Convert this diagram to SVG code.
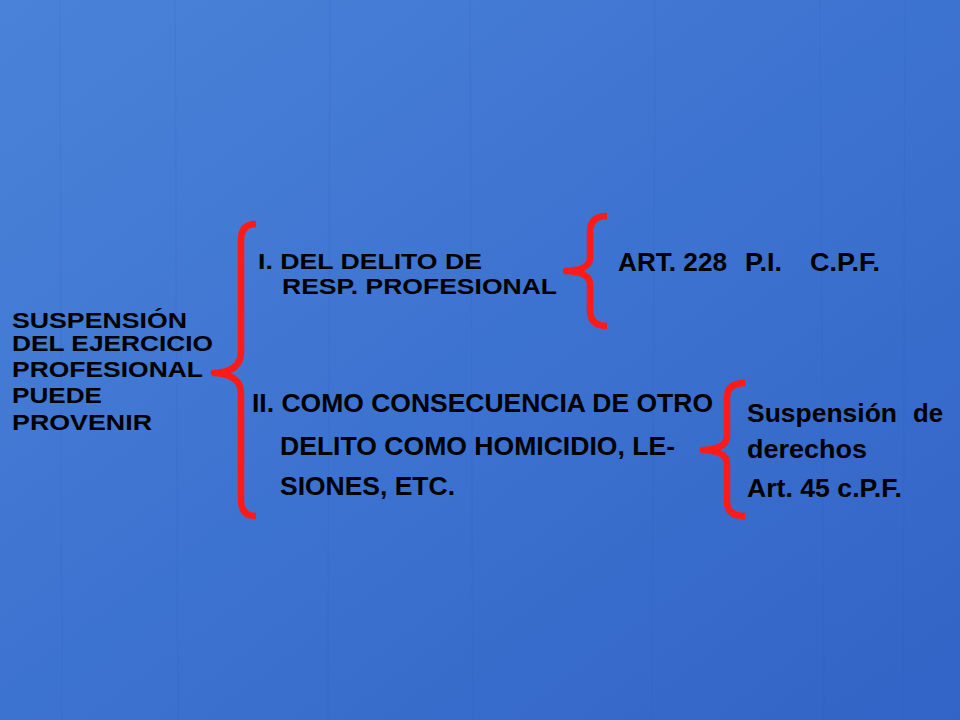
<svg xmlns="http://www.w3.org/2000/svg" width="960" height="720" viewBox="0 0 960 720">
<defs>
<linearGradient id="bg" x1="0" y1="0" x2="1" y2="1">
<stop offset="0" stop-color="#4a82d8"/>
<stop offset="0.5" stop-color="#3d73d0"/>
<stop offset="1" stop-color="#3263c6"/>
</linearGradient>
<style>
.t{font-family:"Liberation Sans",Arial,sans-serif;font-weight:bold;fill:#000;}
.l{font-size:22px;}
.m{font-size:25px;}
.m2{font-size:21.5px;}
.r{font-size:26px;}
.br{fill:none;stroke:#ff1a1a;stroke-width:6.5;stroke-linecap:butt;stroke-linejoin:round;}
.st{stroke:#2a58b8;stroke-opacity:0.1;stroke-width:1.5;}
</style>
</defs>
<rect width="960" height="720" fill="url(#bg)"/>
<g id="texture">
<line class="st" x1="60" y1="0" x2="62" y2="720"/>
<line class="st" x1="175" y1="0" x2="178" y2="720"/>
<line class="st" x1="330" y1="0" x2="328" y2="720"/>
<line class="st" x1="470" y1="0" x2="473" y2="720"/>
<line class="st" x1="655" y1="0" x2="652" y2="720"/>
<line class="st" x1="820" y1="0" x2="824" y2="720"/>
<line class="st" x1="905" y1="0" x2="903" y2="720"/>
</g>
<g id="connectors">
<path class="br" d="M256,224 Q241,224 241,240 L241,352 Q241,372 214,373 Q241,374 241,394 L241,500 Q241,516 256,516"/>
<path class="br" d="M607,216 Q590,216 590,232 L590,258 Q590,270 566,271 Q590,272 590,284 L590,310 Q590,326 607,326"/>
<path class="br" d="M745,383 Q727,383 727,398 L727,436 Q727,449 703,450 Q727,451 727,464 L727,502 Q727,516 745,516"/>
</g>
<g id="root">
<text class="t l" x="12" y="328" textLength="175" lengthAdjust="spacingAndGlyphs">SUSPENSIÓN</text>
<text class="t l" x="12" y="351" textLength="201" lengthAdjust="spacingAndGlyphs">DEL EJERCICIO</text>
<text class="t l" x="12" y="377" textLength="191" lengthAdjust="spacingAndGlyphs">PROFESIONAL</text>
<text class="t l" x="12" y="403" textLength="90" lengthAdjust="spacingAndGlyphs">PUEDE</text>
<text class="t l" x="12" y="430" textLength="140" lengthAdjust="spacingAndGlyphs">PROVENIR</text>
</g>
<g id="n1">
<text class="t m2" x="258" y="269" textLength="224" lengthAdjust="spacingAndGlyphs">I. DEL DELITO DE</text>
<text class="t m2" x="282" y="294" textLength="275" lengthAdjust="spacingAndGlyphs">RESP. PROFESIONAL</text>
</g>
<g id="n1a">
<text class="t m" x="618" y="271" textLength="109" lengthAdjust="spacingAndGlyphs">ART. 228</text>
<text class="t m" x="745" y="271" textLength="37" lengthAdjust="spacingAndGlyphs">P.I.</text>
<text class="t m" x="810" y="271" textLength="70" lengthAdjust="spacingAndGlyphs">C.P.F.</text>
</g>
<g id="n2">
<text class="t m" x="252" y="412" textLength="461" lengthAdjust="spacingAndGlyphs">II. COMO CONSECUENCIA DE OTRO</text>
<text class="t m" x="280" y="455" textLength="395" lengthAdjust="spacingAndGlyphs">DELITO COMO HOMICIDIO, LE-</text>
<text class="t m" x="280" y="495" textLength="175" lengthAdjust="spacingAndGlyphs">SIONES, ETC.</text>
</g>
<g id="n2a">
<text class="t r" x="747" y="422" textLength="150" lengthAdjust="spacingAndGlyphs">Suspensión</text>
<text class="t r" x="913" y="422" textLength="30" lengthAdjust="spacingAndGlyphs">de</text>
<text class="t r" x="747" y="458" textLength="120" lengthAdjust="spacingAndGlyphs">derechos</text>
<text class="t r" x="747" y="497" textLength="155" lengthAdjust="spacingAndGlyphs">Art. 45 c.P.F.</text>
</g>
</svg>
